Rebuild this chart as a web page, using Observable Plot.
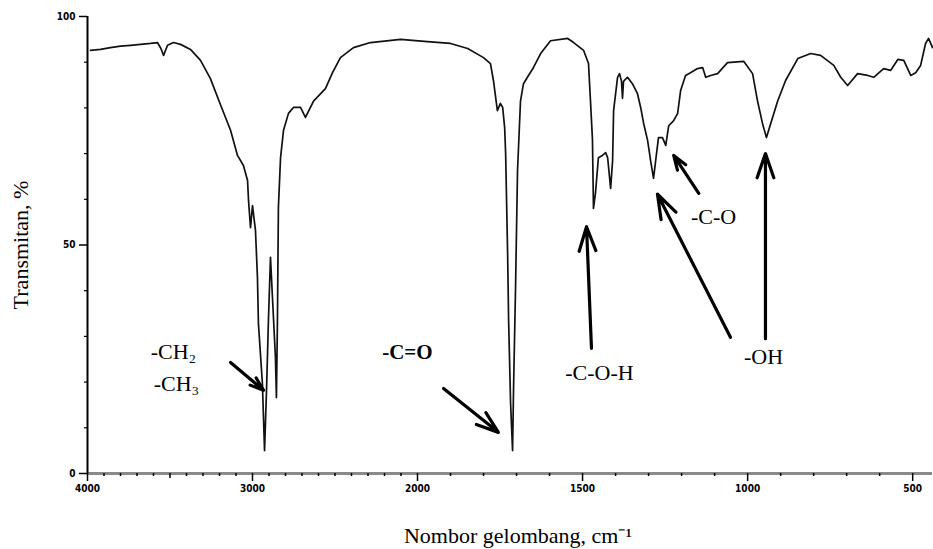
<!DOCTYPE html>
<html>
<head>
<meta charset="utf-8">
<script src="https://cdn.jsdelivr.net/npm/d3@7"></script>
<script src="https://cdn.jsdelivr.net/npm/@observablehq/plot@0.6"></script>
<style>
  html, body { margin: 0; padding: 0; background: #fff; }
  #chart svg { display: block; background: #fff; }
</style>
</head>
<body>
<div id="chart"></div>
<script>
// Spectrum: wavenumber (cm^-1) and transmittance (%)
const wavenumber = [3982,3921,3861,3800,3739,3618,3576,3555,3539,3515,3479,3436,3376,3315,3255,3194,3133,3091,3055,3030,3024,3012,3000,2982,2970,2964,2940,2927,2915,2903,2891,2879,2861,2855,2849,2843,2830,2812,2782,2752,2709,2679,2630,2558,2515,2467,2388,2285,2103,1970,1900,1848,1800,1779,1770,1758,1749,1742,1736,1733,1727,1724,1718,1712,1709,1703,1697,1688,1679,1667,1649,1627,1597,1545,1527,1497,1482,1476,1470,1467,1461,1452,1440,1430,1424,1415,1409,1406,1394,1388,1382,1379,1376,1364,1349,1334,1324,1315,1303,1294,1285,1276,1270,1258,1248,1239,1224,1212,1203,1188,1173,1152,1136,1127,1112,1091,1061,1012,985,970,955,943,930,909,885,848,809,779,739,718,697,667,636,618,588,567,545,527,506,491,476,461,452,440];
const transmittance = [92.6,92.8,93.2,93.5,93.7,94.1,94.3,93.0,91.5,93.7,94.3,93.9,92.8,90.4,86.4,80.7,75.1,69.6,67.4,64.1,59.7,53.8,58.6,53.2,42.9,32.8,19.7,5.0,18.2,34.1,47.3,38.5,25.4,16.6,32.8,58.2,69.1,75.1,78.8,80.1,80.1,77.9,81.5,84.2,87.7,91.0,93.2,94.3,95.0,94.5,94.1,93.0,91.0,89.7,86.0,79.4,81.0,80.1,75.7,70.0,48.1,33.5,15.3,5.0,18.8,40.7,66.3,81.5,85.3,86.7,88.8,91.9,94.7,95.2,94.3,92.6,89.7,81.5,73.0,58.0,61.3,69.1,69.6,70.2,69.1,62.4,68.5,79.4,86.7,87.5,85.8,82.1,85.8,86.7,85.3,83.2,80.1,76.6,72.9,68.5,64.6,70.0,73.5,73.5,71.8,76.1,77.2,78.8,83.8,87.1,87.7,88.6,88.8,86.7,87.1,87.5,89.9,90.2,87.5,81.5,76.6,73.5,76.6,81.5,86.0,90.8,91.9,91.5,89.3,86.7,84.9,87.5,87.1,86.7,88.6,88.2,90.6,90.4,87.1,87.7,89.3,94.1,95.2,93.2];

// Axis ticks
const xMajorTicks = [4000, 3000, 2000, 1500, 1000, 500];
const xMidTicks = [3500];
const xMinorTicks = [3900,3800,3700,3600,3400,3300,3200,3100,2900,2800,2700,2600,2500,2400,2300,2200,2100,1900,1800,1700,1600,1400,1300,1200,1100,900,800,700,600];
const yMajorTicks = [0, 50, 100];
const yMinorTicks = [10, 20, 30, 40, 60, 70, 80, 90];

// Annotation labels (data coordinates)
const labelText = ["-CH\u2082", "-CH\u2083", "-C-O-H", "-C-O", "-OH"];
const labelWn   = [3479, 3461, 1449, 1103, 952];
const labelT    = [26.5, 19.5, 21.9, 56.2, 25.4];
const boldLabelText = ["-C=O"];
const boldLabelWn   = [2061];
const boldLabelT    = [26.5];

// Arrows (tail -> head, data coordinates)
const arrowWn1 = [3133, 1921, 1473, 1052, 946, 1148];
const arrowT1  = [24.3, 18.6, 27.4, 29.8, 29.5, 61.3];
const arrowWn2 = [2933, 1755, 1488, 1273, 946, 1224];
const arrowT2  = [18.2, 9.0, 54.0, 61.1, 70.0, 69.6];

const spectrum = wavenumber.map((w, i) => ({w, t: transmittance[i]}));
const labels = labelText.map((s, i) => ({s, w: labelWn[i], t: labelT[i]}));
const boldLabels = boldLabelText.map((s, i) => ({s, w: boldLabelWn[i], t: boldLabelT[i]}));
const arrows = arrowWn1.map((w, i) => ({w1: w, t1: arrowT1[i], w2: arrowWn2[i], t2: arrowT2[i]}));

const serif = "'Liberation Serif', 'Times New Roman', serif";
const tickFont = "'DejaVu Sans Condensed', 'DejaVu Sans', sans-serif";

const chart = Plot.plot({
  width: 933,
  height: 549,
  marginLeft: 87,
  marginRight: 1,
  marginTop: 16,
  marginBottom: 76,
  style: {background: "#fff", color: "#000"},
  x: {type: "linear", domain: [4000, 2000, 440], range: [87, 417, 932]},
  y: {domain: [0, 100]},
  marks: [
    // x axis baseline (gray)
    Plot.ruleY([0], {stroke: "#8a8a8a", strokeWidth: 3}),
    Plot.axisX(xMinorTicks, {tickSize: 3, text: null, strokeWidth: 1.5, anchor: "bottom"}),
    Plot.axisX(xMidTicks, {tickSize: 5, text: null, strokeWidth: 1.5, anchor: "bottom"}),
    Plot.axisX(xMajorTicks, {tickSize: 8, tickPadding: 3, strokeWidth: 1.5, anchor: "bottom",
      tickFormat: d => String(d), fontSize: 10, fontWeight: "bold", fontFamily: tickFont, label: null}),
    // y axis
    Plot.ruleX([4000], {stroke: "#000", strokeWidth: 2}),
    Plot.axisY(yMinorTicks, {tickSize: 3, text: null, strokeWidth: 1.2, anchor: "left"}),
    Plot.axisY(yMajorTicks, {tickSize: 8, tickPadding: 4, strokeWidth: 1.5, anchor: "left",
      tickFormat: d => String(d), fontSize: 10, fontWeight: "bold", fontFamily: tickFont, label: null}),
    // spectrum
    Plot.line(spectrum, {x: "w", y: "t", stroke: "#111", strokeWidth: 1.7}),
    // arrows
    Plot.arrow(arrows, {x1: "w1", y1: "t1", x2: "w2", y2: "t2", stroke: "#000",
      strokeWidth: 3.2, headLength: 12, headAngle: 38}),
    // annotation labels
    Plot.text(labels, {x: "w", y: "t", text: "s", fontSize: 22, fontFamily: serif, fill: "#000"}),
    Plot.text(boldLabels, {x: "w", y: "t", text: "s", fontSize: 21, fontWeight: "bold", fontFamily: serif, fill: "#000"}),
    // axis titles
    Plot.text(["Transmitan, %"], {frameAnchor: "left", textAnchor: "middle", lineAnchor: "middle",
      dx: -67, rotate: -90, fontSize: 22, fontFamily: serif, fill: "#000"}),
    Plot.text(["Nombor gelombang, cm\u207B\u00B9"], {frameAnchor: "bottom", textAnchor: "middle", lineAnchor: "middle",
      dx: 8, dy: 62, fontSize: 22, fontFamily: serif, fill: "#000"})
  ]
});
document.getElementById("chart").appendChild(chart);
</script>
</body>
</html>
